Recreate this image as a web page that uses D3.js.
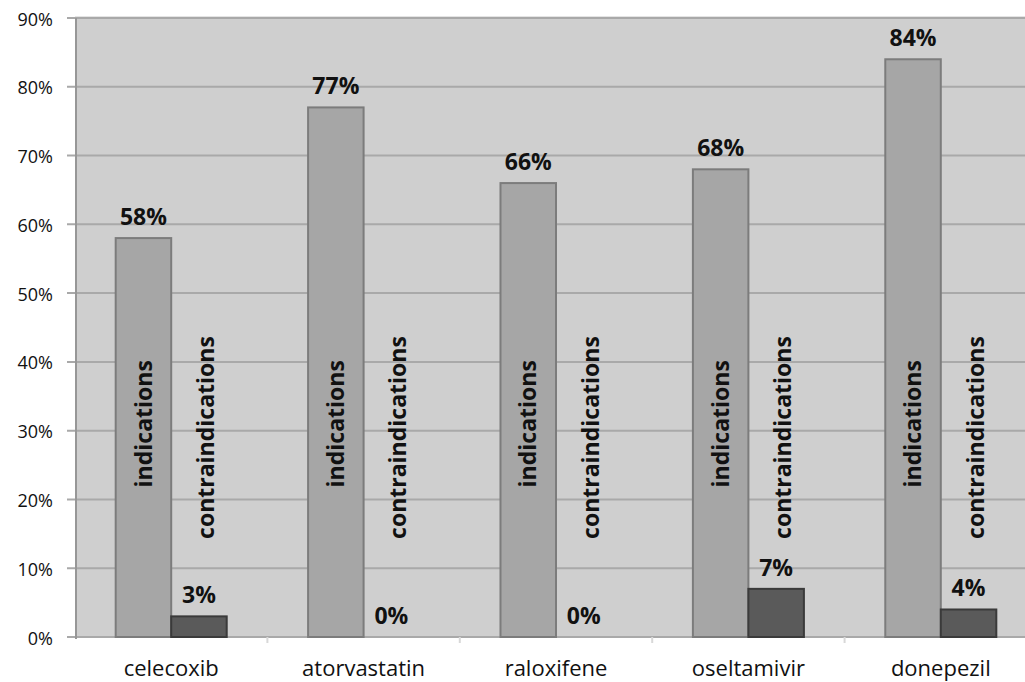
<!DOCTYPE html>
<html>
<head>
<meta charset="utf-8">
<script src="https://cdn.jsdelivr.net/npm/d3@7"></script>
<style>
html,body{margin:0;padding:0;background:#fff;}
svg{display:block;}
</style>
</head>
<body>
<svg id="chart" width="1025" height="682"></svg>
<script>
const categories = ["celecoxib", "atorvastatin", "raloxifene", "oseltamivir", "donepezil"];
const seriesNames = ["indications", "contraindications"];
const indications = [58, 77, 66, 68, 84];
const contraindications = [3, 0, 0, 7, 4];
const yTicks = [0, 10, 20, 30, 40, 50, 60, 70, 80, 90];
const seriesLabelPos = [31, 29]; // vertical centre of the rotated series names (in %)

const svg = d3.select("#chart");
const plotL = 75, plotR = 1037, plotT = 18, plotB = 637;
const font = "'Open Sans', sans-serif";

const x = d3.scaleBand().domain(categories).range([plotL, plotR]).paddingInner(0.423).paddingOuter(0.2115);
const x0 = d3.scaleBand().domain(categories).range([plotL, plotR]);
const xs = d3.scaleBand().domain(seriesNames).range([0, x.bandwidth()]);
const y = d3.scaleLinear().domain([0, 90]).range([plotB, plotT]);

const colors = {indications: "#a6a6a6", contraindications: "#5a5a5a"};
const strokes = {indications: "#7c7c7c", contraindications: "#3a3a3a"};

// plot background
svg.append("rect").attr("x", plotL).attr("y", plotT).attr("width", plotR - plotL).attr("height", plotB - plotT)
  .attr("fill", "#cfcfcf");
svg.append("line").attr("x1", plotL).attr("x2", plotR).attr("y1", plotT - 1).attr("y2", plotT - 1)
  .attr("stroke", "#e4e4e4").attr("stroke-width", 2);

// gridlines + ticks
svg.append("g").selectAll("line").data(yTicks).join("line")
  .attr("x1", plotL - 8).attr("x2", plotR)
  .attr("y1", d => y(d)).attr("y2", d => y(d))
  .attr("stroke", "#a9a9a9").attr("stroke-width", 2);

// y axis labels
svg.append("g").selectAll("text").data(yTicks).join("text")
  .attr("x", 53).attr("y", d => y(d)).attr("dy", "0.42em")
  .attr("text-anchor", "end").attr("font-family", font).attr("font-size", 18).attr("fill", "#111")
  .text(d => d + "%");

// y axis line
svg.append("line").attr("x1", plotL + 1).attr("x2", plotL + 1).attr("y1", plotT).attr("y2", plotB + 2)
  .attr("stroke", "#979797").attr("stroke-width", 2);

// bottom category ticks
svg.append("g").selectAll("line").data(categories.slice(1)).join("line")
  .attr("x1", d => x0(d)).attr("x2", d => x0(d))
  .attr("y1", plotB).attr("y2", plotB + 6)
  .attr("stroke", "#d8d8d8").attr("stroke-width", 2);

const rows = categories.map((c, i) => ({cat: c, vals: [
  {s: "indications", v: indications[i]},
  {s: "contraindications", v: contraindications[i]}
]}));

const g = svg.append("g").selectAll("g").data(rows).join("g")
  .attr("transform", d => `translate(${x(d.cat)},0)`);

g.selectAll("rect").data(d => d.vals).join("rect")
  .attr("x", d => xs(d.s)).attr("width", xs.bandwidth())
  .attr("y", d => y(d.v)).attr("height", d => y(0) - y(d.v))
  .attr("fill", d => colors[d.s]).attr("stroke", d => strokes[d.s]).attr("stroke-width", 2);

// value labels
g.selectAll("text.val").data(d => d.vals).join("text").attr("class", "val")
  .attr("x", d => xs(d.s) + xs.bandwidth() / 2).attr("y", d => y(d.v) - 13)
  .attr("text-anchor", "middle").attr("font-family", font).attr("font-weight", "bold")
  .attr("font-size", 23).attr("fill", "#111")
  .text(d => d.v + "%");

// rotated series names
g.selectAll("text.ser").data(d => d.vals).join("text").attr("class", "ser")
  .attr("transform", (d, i) => `translate(${xs(d.s) + xs.bandwidth() / 2 + (i ? 7 : 0)},${y(seriesLabelPos[i])}) rotate(-90)`)
  .attr("dy", "0.35em").attr("text-anchor", "middle").attr("font-family", font).attr("font-weight", "bold")
  .attr("font-size", 23).attr("fill", "#111")
  .text(d => d.s);

// category labels
svg.append("g").selectAll("text").data(categories).join("text")
  .attr("x", d => x0(d) + x0.bandwidth() / 2).attr("y", 676)
  .attr("text-anchor", "middle").attr("font-family", font).attr("font-size", 22).attr("fill", "#111")
  .text(d => d);
</script>
</body>
</html>
